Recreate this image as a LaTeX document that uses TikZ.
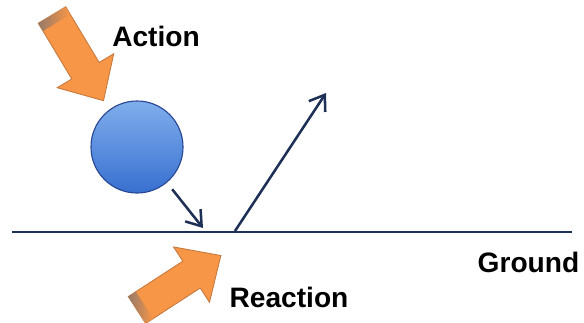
\documentclass[tikz,border=0pt]{standalone}
\usepackage{fontspec}
\setmainfont{Liberation Sans}
\usetikzlibrary{arrows.meta}

\definecolor{pushorange}{RGB}{247,150,70}
\definecolor{pushedge}{RGB}{196,120,62}
\definecolor{pushtail}{RGB}{150,122,104}
\definecolor{balltop}{RGB}{128,174,236}
\definecolor{ballbottom}{RGB}{56,112,208}
\definecolor{balledge}{RGB}{40,72,150}
\definecolor{linenavy}{RGB}{30,48,86}

\begin{document}
\begin{tikzpicture}[x=0.025cm, y=-0.025cm,
    font=\fontsize{20}{24}\selectfont\bfseries,
    force/.style={linenavy, line width=1.8pt, -{Straight Barb[length=10pt, width=14pt]}},
    label/.style={inner sep=0pt, anchor=center}]

  % Units: 1 unit = 1 px of the 584 x 322 sketch, y runs downward
  \useasboundingbox (0,0) rectangle (584,322);

  % Action push (tail at 52/15, heading down-right)
  \begin{scope}[shift={(52,15)}, rotate=-59]
    \fill[pushorange, draw=pushedge, line width=0.6pt]
      (0,-16) -- (65,-16) -- (65,-33) -- (100,0) -- (65,33) -- (65,16) -- (0,16) -- cycle;
    \shade[left color=pushtail, right color=pushorange] (0,-16) rectangle (9,16);
  \end{scope}

  % Reaction push (tail at 137/310, heading up-right)
  \begin{scope}[shift={(137,310)}, rotate=33]
    \fill[pushorange, draw=pushedge, line width=0.6pt]
      (0,-16) -- (65,-16) -- (65,-33) -- (100,0) -- (65,33) -- (65,16) -- (0,16) -- cycle;
    \shade[left color=pushtail, right color=pushorange] (0,-16) rectangle (9,16);
  \end{scope}

  % Ball
  \node[circle, minimum size=2.3cm, top color=balltop, bottom color=ballbottom,
        draw=balledge, line width=0.8pt] (ball) at (137,147) {};

  % Ground line
  \coordinate (gl) at (12,232);
  \coordinate (gr) at (572,232);
  \draw[linenavy, line width=1.8pt] (gl) -- (gr);

  % Incoming and outgoing paths
  \coordinate (hit) at (203,228);
  \coordinate (bounce) at (235,231);
  \coordinate (apex) at (326,93);
  \draw[force, shorten <=6pt] (ball.-50) -- (hit);
  \draw[force] (bounce) -- (apex);

  % Labels
  \node[label] (action)   at (156,36)    {Action};
  \node[label] (reaction) at (289,297.5) {Reaction};
  \node[label] (ground)   at (528.5,262.5) {Ground};

\end{tikzpicture}
\end{document}
